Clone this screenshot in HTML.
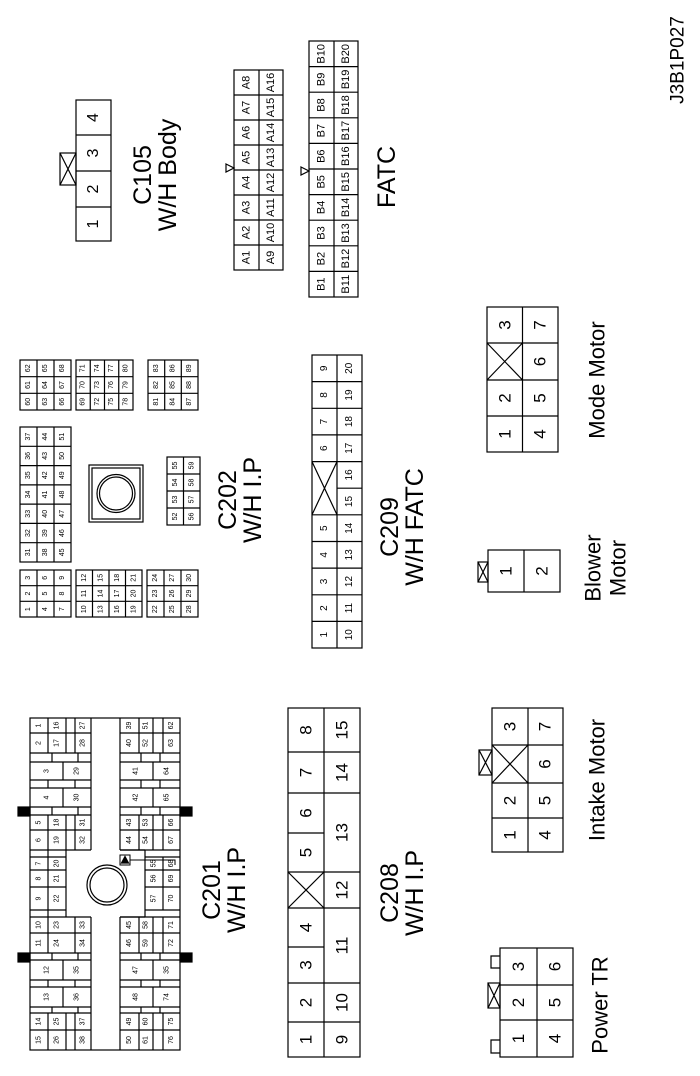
<!DOCTYPE html>
<html><head><meta charset="utf-8"><style>
html,body{margin:0;padding:0;background:#fff;}
svg{display:block;}
text{font-family:"Liberation Sans",Arial,sans-serif;text-anchor:middle;dominant-baseline:central;fill:#000;}
.s7{font-size:7px}.s8{font-size:8px}.s10{font-size:10px}.s11{font-size:11px}.s16{font-size:16px}.s17{font-size:17px}.s22{font-size:22px}.s25{font-size:25px}.s16b{font-size:19px}
rect,path,line,circle,polygon{fill:none;stroke:#000;stroke-width:1.2}
</style></head><body>
<svg width="700" height="1076" viewBox="0 0 700 1076" xmlns="http://www.w3.org/2000/svg">

<!-- J3B1P027 -->
<text class="s16b" transform="translate(678 60) rotate(-90)">J3B1P027</text>

<!-- C105 -->
<rect x="76" y="100" width="35" height="141"/>
<line x1="76" y1="135" x2="111" y2="135"/><line x1="76" y1="171" x2="111" y2="171"/><line x1="76" y1="207" x2="111" y2="207"/>
<rect x="60" y="153" width="16" height="32"/><path d="M60 153 L76 185 M76 153 L60 185"/>
<text class="s16" transform="translate(93.5 117.5) rotate(-90)">4</text>
<text class="s16" transform="translate(93.5 153) rotate(-90)">3</text>
<text class="s16" transform="translate(93.5 189) rotate(-90)">2</text>
<text class="s16" transform="translate(93.5 224) rotate(-90)">1</text>
<text class="s25" transform="translate(143 175) rotate(-90)">C105</text>
<text class="s25" transform="translate(168 175) rotate(-90)">W/H Body</text>

<!-- FATC A -->
<rect x="234" y="70" width="49" height="200"/>
<line x1="259" y1="70" x2="259" y2="270"/>
<path d="M234 95H283M234 120H283M234 145H283M234 170H283M234 195H283M234 220H283M234 245H283"/>
<polygon points="226,164 234,168 226,172" />
<text class="s11" transform="translate(246.5 82.5) rotate(-90)">A8</text>
<text class="s11" transform="translate(246.5 107.5) rotate(-90)">A7</text>
<text class="s11" transform="translate(246.5 132.5) rotate(-90)">A6</text>
<text class="s11" transform="translate(246.5 157.5) rotate(-90)">A5</text>
<text class="s11" transform="translate(246.5 182.5) rotate(-90)">A4</text>
<text class="s11" transform="translate(246.5 207.5) rotate(-90)">A3</text>
<text class="s11" transform="translate(246.5 232.5) rotate(-90)">A2</text>
<text class="s11" transform="translate(246.5 257.5) rotate(-90)">A1</text>
<text class="s11" transform="translate(271 82.5) rotate(-90)">A16</text>
<text class="s11" transform="translate(271 107.5) rotate(-90)">A15</text>
<text class="s11" transform="translate(271 132.5) rotate(-90)">A14</text>
<text class="s11" transform="translate(271 157.5) rotate(-90)">A13</text>
<text class="s11" transform="translate(271 182.5) rotate(-90)">A12</text>
<text class="s11" transform="translate(271 207.5) rotate(-90)">A11</text>
<text class="s11" transform="translate(271 232.5) rotate(-90)">A10</text>
<text class="s11" transform="translate(271 257.5) rotate(-90)">A9</text>

<!-- FATC B -->
<rect x="309" y="41" width="49" height="256"/>
<line x1="334" y1="41" x2="334" y2="297"/>
<path d="M309 66.6H358M309 92.2H358M309 117.8H358M309 143.4H358M309 169H358M309 194.6H358M309 220.2H358M309 245.8H358M309 271.4H358"/>
<polygon points="301,167 309,171 301,175" />
<text class="s11" transform="translate(321.5 53.8) rotate(-90)">B10</text>
<text class="s11" transform="translate(321.5 79.4) rotate(-90)">B9</text>
<text class="s11" transform="translate(321.5 105) rotate(-90)">B8</text>
<text class="s11" transform="translate(321.5 130.6) rotate(-90)">B7</text>
<text class="s11" transform="translate(321.5 156.2) rotate(-90)">B6</text>
<text class="s11" transform="translate(321.5 181.8) rotate(-90)">B5</text>
<text class="s11" transform="translate(321.5 207.4) rotate(-90)">B4</text>
<text class="s11" transform="translate(321.5 233) rotate(-90)">B3</text>
<text class="s11" transform="translate(321.5 258.6) rotate(-90)">B2</text>
<text class="s11" transform="translate(321.5 284.2) rotate(-90)">B1</text>
<text class="s11" transform="translate(346 53.8) rotate(-90)">B20</text>
<text class="s11" transform="translate(346 79.4) rotate(-90)">B19</text>
<text class="s11" transform="translate(346 105) rotate(-90)">B18</text>
<text class="s11" transform="translate(346 130.6) rotate(-90)">B17</text>
<text class="s11" transform="translate(346 156.2) rotate(-90)">B16</text>
<text class="s11" transform="translate(346 181.8) rotate(-90)">B15</text>
<text class="s11" transform="translate(346 207.4) rotate(-90)">B14</text>
<text class="s11" transform="translate(346 233) rotate(-90)">B13</text>
<text class="s11" transform="translate(346 258.6) rotate(-90)">B12</text>
<text class="s11" transform="translate(346 284.2) rotate(-90)">B11</text>
<text class="s25" transform="translate(387 177) rotate(-90)">FATC</text>

<!-- C202 -->
<rect x="20" y="360" width="51" height="50"/>
<path d="M37 360V410M54 360V410M20 376.7H71M20 393.3H71"/>
<text class="s7" transform="translate(28.5 368.3) rotate(-90)">62</text>
<text class="s7" transform="translate(28.5 385) rotate(-90)">61</text>
<text class="s7" transform="translate(28.5 401.7) rotate(-90)">60</text>
<text class="s7" transform="translate(45.5 368.3) rotate(-90)">65</text>
<text class="s7" transform="translate(45.5 385) rotate(-90)">64</text>
<text class="s7" transform="translate(45.5 401.7) rotate(-90)">63</text>
<text class="s7" transform="translate(62.5 368.3) rotate(-90)">68</text>
<text class="s7" transform="translate(62.5 385) rotate(-90)">67</text>
<text class="s7" transform="translate(62.5 401.7) rotate(-90)">66</text>
<rect x="76" y="360" width="57" height="50"/>
<path d="M90.25 360V410M104.5 360V410M118.75 360V410M76 376.7H133M76 393.3H133"/>
<text class="s7" transform="translate(83.1 368.3) rotate(-90)">71</text>
<text class="s7" transform="translate(83.1 385) rotate(-90)">70</text>
<text class="s7" transform="translate(83.1 401.7) rotate(-90)">69</text>
<text class="s7" transform="translate(97.4 368.3) rotate(-90)">74</text>
<text class="s7" transform="translate(97.4 385) rotate(-90)">73</text>
<text class="s7" transform="translate(97.4 401.7) rotate(-90)">72</text>
<text class="s7" transform="translate(111.6 368.3) rotate(-90)">77</text>
<text class="s7" transform="translate(111.6 385) rotate(-90)">76</text>
<text class="s7" transform="translate(111.6 401.7) rotate(-90)">75</text>
<text class="s7" transform="translate(125.9 368.3) rotate(-90)">80</text>
<text class="s7" transform="translate(125.9 385) rotate(-90)">79</text>
<text class="s7" transform="translate(125.9 401.7) rotate(-90)">78</text>
<rect x="148" y="360" width="50" height="50"/>
<path d="M164.7 360V410M181.3 360V410M148 376.7H198M148 393.3H198"/>
<text class="s7" transform="translate(156.3 368.3) rotate(-90)">83</text>
<text class="s7" transform="translate(156.3 385) rotate(-90)">82</text>
<text class="s7" transform="translate(156.3 401.7) rotate(-90)">81</text>
<text class="s7" transform="translate(173 368.3) rotate(-90)">86</text>
<text class="s7" transform="translate(173 385) rotate(-90)">85</text>
<text class="s7" transform="translate(173 401.7) rotate(-90)">84</text>
<text class="s7" transform="translate(189.7 368.3) rotate(-90)">89</text>
<text class="s7" transform="translate(189.7 385) rotate(-90)">88</text>
<text class="s7" transform="translate(189.7 401.7) rotate(-90)">87</text>
<rect x="20" y="427" width="51" height="135"/>
<path d="M37 427V562M54 427V562M20 446.3H71M20 465.6H71M20 484.9H71M20 504.1H71M20 523.4H71M20 542.7H71"/>
<text class="s7" transform="translate(28.5 436.6) rotate(-90)">37</text>
<text class="s7" transform="translate(28.5 455.9) rotate(-90)">36</text>
<text class="s7" transform="translate(28.5 475.2) rotate(-90)">35</text>
<text class="s7" transform="translate(28.5 494.5) rotate(-90)">34</text>
<text class="s7" transform="translate(28.5 513.8) rotate(-90)">33</text>
<text class="s7" transform="translate(28.5 533.1) rotate(-90)">32</text>
<text class="s7" transform="translate(28.5 552.4) rotate(-90)">31</text>
<text class="s7" transform="translate(45.5 436.6) rotate(-90)">44</text>
<text class="s7" transform="translate(45.5 455.9) rotate(-90)">43</text>
<text class="s7" transform="translate(45.5 475.2) rotate(-90)">42</text>
<text class="s7" transform="translate(45.5 494.5) rotate(-90)">41</text>
<text class="s7" transform="translate(45.5 513.8) rotate(-90)">40</text>
<text class="s7" transform="translate(45.5 533.1) rotate(-90)">39</text>
<text class="s7" transform="translate(45.5 552.4) rotate(-90)">38</text>
<text class="s7" transform="translate(62.5 436.6) rotate(-90)">51</text>
<text class="s7" transform="translate(62.5 455.9) rotate(-90)">50</text>
<text class="s7" transform="translate(62.5 475.2) rotate(-90)">49</text>
<text class="s7" transform="translate(62.5 494.5) rotate(-90)">48</text>
<text class="s7" transform="translate(62.5 513.8) rotate(-90)">47</text>
<text class="s7" transform="translate(62.5 533.1) rotate(-90)">46</text>
<text class="s7" transform="translate(62.5 552.4) rotate(-90)">45</text>
<rect x="89" y="465" width="54" height="57"/>
<rect x="92" y="468" width="48" height="51"/>
<circle cx="116" cy="493.5" r="19"/><circle cx="116" cy="493.5" r="16.5"/>
<rect x="167" y="457" width="33" height="68"/>
<path d="M183.5 457V525M167 474H200M167 491H200M167 508H200"/>
<text class="s7" transform="translate(175.3 465.5) rotate(-90)">55</text>
<text class="s7" transform="translate(175.3 482.5) rotate(-90)">54</text>
<text class="s7" transform="translate(175.3 499.5) rotate(-90)">53</text>
<text class="s7" transform="translate(175.3 516.5) rotate(-90)">52</text>
<text class="s7" transform="translate(191.8 465.5) rotate(-90)">59</text>
<text class="s7" transform="translate(191.8 482.5) rotate(-90)">58</text>
<text class="s7" transform="translate(191.8 499.5) rotate(-90)">57</text>
<text class="s7" transform="translate(191.8 516.5) rotate(-90)">56</text>
<rect x="20" y="570" width="51" height="47"/>
<path d="M37 570V617M54 570V617M20 585.7H71M20 601.3H71"/>
<text class="s7" transform="translate(28.5 577.8) rotate(-90)">3</text>
<text class="s7" transform="translate(28.5 593.5) rotate(-90)">2</text>
<text class="s7" transform="translate(28.5 609.2) rotate(-90)">1</text>
<text class="s7" transform="translate(45.5 577.8) rotate(-90)">6</text>
<text class="s7" transform="translate(45.5 593.5) rotate(-90)">5</text>
<text class="s7" transform="translate(45.5 609.2) rotate(-90)">4</text>
<text class="s7" transform="translate(62.5 577.8) rotate(-90)">9</text>
<text class="s7" transform="translate(62.5 593.5) rotate(-90)">8</text>
<text class="s7" transform="translate(62.5 609.2) rotate(-90)">7</text>
<rect x="76" y="570" width="66" height="47"/>
<path d="M92.5 570V617M109 570V617M125.5 570V617M76 585.7H142M76 601.3H142"/>
<text class="s7" transform="translate(84.3 577.8) rotate(-90)">12</text>
<text class="s7" transform="translate(84.3 593.5) rotate(-90)">11</text>
<text class="s7" transform="translate(84.3 609.2) rotate(-90)">10</text>
<text class="s7" transform="translate(100.8 577.8) rotate(-90)">15</text>
<text class="s7" transform="translate(100.8 593.5) rotate(-90)">14</text>
<text class="s7" transform="translate(100.8 609.2) rotate(-90)">13</text>
<text class="s7" transform="translate(117.3 577.8) rotate(-90)">18</text>
<text class="s7" transform="translate(117.3 593.5) rotate(-90)">17</text>
<text class="s7" transform="translate(117.3 609.2) rotate(-90)">16</text>
<text class="s7" transform="translate(133.8 577.8) rotate(-90)">21</text>
<text class="s7" transform="translate(133.8 593.5) rotate(-90)">20</text>
<text class="s7" transform="translate(133.8 609.2) rotate(-90)">19</text>
<rect x="147" y="570" width="51" height="47"/>
<path d="M164 570V617M181 570V617M147 585.7H198M147 601.3H198"/>
<text class="s7" transform="translate(155.5 577.8) rotate(-90)">24</text>
<text class="s7" transform="translate(155.5 593.5) rotate(-90)">23</text>
<text class="s7" transform="translate(155.5 609.2) rotate(-90)">22</text>
<text class="s7" transform="translate(172.5 577.8) rotate(-90)">27</text>
<text class="s7" transform="translate(172.5 593.5) rotate(-90)">26</text>
<text class="s7" transform="translate(172.5 609.2) rotate(-90)">25</text>
<text class="s7" transform="translate(189.5 577.8) rotate(-90)">30</text>
<text class="s7" transform="translate(189.5 593.5) rotate(-90)">29</text>
<text class="s7" transform="translate(189.5 609.2) rotate(-90)">28</text>
<text class="s25" transform="translate(228 500) rotate(-90)">C202</text>
<text class="s25" transform="translate(253 500) rotate(-90)">W/H I.P</text>

<!-- C209 -->
<rect x="312" y="355" width="50" height="293"/>
<line x1="337" y1="355" x2="337" y2="648"/>
<path d="M312 381.6H362M312 408.3H362M312 434.9H362M312 461.6H362M337 488.2H362M312 514.8H362M312 541.5H362M312 568.1H362M312 594.8H362M312 621.4H362"/>
<path d="M312 461.6L337 514.8M337 461.6L312 514.8"/>
<text class="s10" transform="translate(324.5 368.3) rotate(-90)">9</text>
<text class="s10" transform="translate(324.5 395) rotate(-90)">8</text>
<text class="s10" transform="translate(324.5 421.6) rotate(-90)">7</text>
<text class="s10" transform="translate(324.5 448.2) rotate(-90)">6</text>
<text class="s10" transform="translate(324.5 528.2) rotate(-90)">5</text>
<text class="s10" transform="translate(324.5 554.8) rotate(-90)">4</text>
<text class="s10" transform="translate(324.5 581.5) rotate(-90)">3</text>
<text class="s10" transform="translate(324.5 608.1) rotate(-90)">2</text>
<text class="s10" transform="translate(324.5 634.7) rotate(-90)">1</text>
<text class="s10" transform="translate(349.5 368.3) rotate(-90)">20</text>
<text class="s10" transform="translate(349.5 395) rotate(-90)">19</text>
<text class="s10" transform="translate(349.5 421.6) rotate(-90)">18</text>
<text class="s10" transform="translate(349.5 448.2) rotate(-90)">17</text>
<text class="s10" transform="translate(349.5 474.9) rotate(-90)">16</text>
<text class="s10" transform="translate(349.5 501.5) rotate(-90)">15</text>
<text class="s10" transform="translate(349.5 528.2) rotate(-90)">14</text>
<text class="s10" transform="translate(349.5 554.8) rotate(-90)">13</text>
<text class="s10" transform="translate(349.5 581.5) rotate(-90)">12</text>
<text class="s10" transform="translate(349.5 608.1) rotate(-90)">11</text>
<text class="s10" transform="translate(349.5 634.7) rotate(-90)">10</text>
<text class="s25" transform="translate(390 527) rotate(-90)">C209</text>
<text class="s25" transform="translate(415 527) rotate(-90)">W/H FATC</text>

<!-- Mode Motor -->
<rect x="487" y="307" width="71" height="145"/>
<path d="M522.5 307V452M487 343H558M487 380H558M487 416H558M487 343L522.5 380M522.5 343L487 380"/>
<text class="s17" transform="translate(505 325) rotate(-90)">3</text>
<text class="s17" transform="translate(505 398) rotate(-90)">2</text>
<text class="s17" transform="translate(505 434) rotate(-90)">1</text>
<text class="s17" transform="translate(540 325) rotate(-90)">7</text>
<text class="s17" transform="translate(540 361.5) rotate(-90)">6</text>
<text class="s17" transform="translate(540 398) rotate(-90)">5</text>
<text class="s17" transform="translate(540 434) rotate(-90)">4</text>
<text class="s22" transform="translate(597 380) rotate(-90)">Mode Motor</text>

<!-- Blower Motor -->
<rect x="488" y="550" width="72" height="42"/>
<line x1="524" y1="550" x2="524" y2="592"/>
<rect x="478" y="562" width="10" height="20"/><path d="M478 562L488 582M488 562L478 582"/>
<text class="s17" transform="translate(506 571) rotate(-90)">1</text>
<text class="s17" transform="translate(542 571) rotate(-90)">2</text>
<text class="s22" transform="translate(593 568) rotate(-90)">Blower</text>
<text class="s22" transform="translate(618 568) rotate(-90)">Motor</text>

<!-- C201 -->
<rect x="30" y="718" width="150" height="332"/>
<rect x="18" y="807" width="12" height="9" style="fill:#000"/>
<rect x="18" y="953" width="12" height="9" style="fill:#000"/>
<rect x="180" y="807" width="12" height="9" style="fill:#000"/>
<rect x="180" y="953" width="12" height="9" style="fill:#000"/>
<path d="M91 718V850M66 850V917M91 917V1050M66 850H91M66 917H91"/>
<path d="M30 733H91M30 753H91M30 762H91M30 780H91M30 788H91M30 807H91M30 815H91M30 830H91M30 850H66M30 857H66M30 870H66M30 887H66M30 910H66M30 917H66M30 933H91M30 953H91M30 960H91M30 980H91M30 987H91M30 1007H91M30 1013H91M30 1030H91"/>
<path d="M48 718V753M66 718V753M75 718V753M52 753V762M78 753V762M63 762V780M48 780V788M75 780V788M63 788V807M52 807V815M78 807V815M48 815V857M66 815V850M75 815V850M48 857V910M48 910V917M48 917V953M75 917V953M52 953V960M78 953V960M63 960V980M48 980V987M75 980V987M63 987V1007M52 1007V1013M78 1007V1013M48 1013V1050M66 1013V1050M75 1013V1050"/>
<path d="M120 718V850M145 850V917M120 917V1050M120 850H145M120 917H145"/>
<path d="M120 733H180M120 753H180M120 762H180M120 780H180M120 788H180M120 807H180M120 815H180M120 830H180M120 850H180M145 857H180M145 870H180M145 887H180M145 910H180M120 917H180M120 933H180M120 953H180M120 960H180M120 980H180M120 987H180M120 1007H180M120 1013H180M120 1030H180"/>
<path d="M139 718V753M153 718V753M163 718V753M141 753V762M160 753V762M153 762V780M141 780V788M160 780V788M153 788V807M141 807V815M160 807V815M139 815V850M153 815V850M163 815V850M163 857V910M139 917V953M153 917V953M163 917V953M141 953V960M160 953V960M153 960V980M141 980V987M160 980V987M153 987V1007M141 1007V1013M160 1007V1013M139 1013V1050M153 1013V1050M163 1013V1050"/>
<circle cx="107" cy="885" r="20"/><circle cx="107" cy="885" r="17"/>
<rect x="120" y="855" width="10" height="10" style="stroke-width:1"/>
<polygon points="125,856.5 128.5,863 121.5,863" style="fill:#000"/>
<path d="M130 860H175V865" style="stroke-width:1"/>
<text class="s7" transform="translate(39 725.5) rotate(-90)">1</text>
<text class="s7" transform="translate(57 725.5) rotate(-90)">16</text>
<text class="s7" transform="translate(83 725.5) rotate(-90)">27</text>
<text class="s7" transform="translate(39 743) rotate(-90)">2</text>
<text class="s7" transform="translate(57 743) rotate(-90)">17</text>
<text class="s7" transform="translate(83 743) rotate(-90)">28</text>
<text class="s7" transform="translate(47 771) rotate(-90)">3</text>
<text class="s7" transform="translate(77 771) rotate(-90)">29</text>
<text class="s7" transform="translate(47 797.5) rotate(-90)">4</text>
<text class="s7" transform="translate(77 797.5) rotate(-90)">30</text>
<text class="s7" transform="translate(39 822.5) rotate(-90)">5</text>
<text class="s7" transform="translate(57 822.5) rotate(-90)">18</text>
<text class="s7" transform="translate(83 822.5) rotate(-90)">31</text>
<text class="s7" transform="translate(39 840) rotate(-90)">6</text>
<text class="s7" transform="translate(57 840) rotate(-90)">19</text>
<text class="s7" transform="translate(83 840) rotate(-90)">32</text>
<text class="s7" transform="translate(39 863.5) rotate(-90)">7</text>
<text class="s7" transform="translate(57 863.5) rotate(-90)">20</text>
<text class="s7" transform="translate(39 878.5) rotate(-90)">8</text>
<text class="s7" transform="translate(57 878.5) rotate(-90)">21</text>
<text class="s7" transform="translate(39 898.5) rotate(-90)">9</text>
<text class="s7" transform="translate(57 898.5) rotate(-90)">22</text>
<text class="s7" transform="translate(39 925) rotate(-90)">10</text>
<text class="s7" transform="translate(57 925) rotate(-90)">23</text>
<text class="s7" transform="translate(83 925) rotate(-90)">33</text>
<text class="s7" transform="translate(39 943) rotate(-90)">11</text>
<text class="s7" transform="translate(57 943) rotate(-90)">24</text>
<text class="s7" transform="translate(83 943) rotate(-90)">34</text>
<text class="s7" transform="translate(47 970) rotate(-90)">12</text>
<text class="s7" transform="translate(77 970) rotate(-90)">35</text>
<text class="s7" transform="translate(47 997) rotate(-90)">13</text>
<text class="s7" transform="translate(77 997) rotate(-90)">36</text>
<text class="s7" transform="translate(39 1021.5) rotate(-90)">14</text>
<text class="s7" transform="translate(57 1021.5) rotate(-90)">25</text>
<text class="s7" transform="translate(83 1021.5) rotate(-90)">37</text>
<text class="s7" transform="translate(39 1040) rotate(-90)">15</text>
<text class="s7" transform="translate(57 1040) rotate(-90)">26</text>
<text class="s7" transform="translate(83 1040) rotate(-90)">38</text>
<text class="s7" transform="translate(129.5 725.5) rotate(-90)">39</text>
<text class="s7" transform="translate(146 725.5) rotate(-90)">51</text>
<text class="s7" transform="translate(171.5 725.5) rotate(-90)">62</text>
<text class="s7" transform="translate(129.5 743) rotate(-90)">40</text>
<text class="s7" transform="translate(146 743) rotate(-90)">52</text>
<text class="s7" transform="translate(171.5 743) rotate(-90)">63</text>
<text class="s7" transform="translate(136 771) rotate(-90)">41</text>
<text class="s7" transform="translate(167 771) rotate(-90)">64</text>
<text class="s7" transform="translate(136 797.5) rotate(-90)">42</text>
<text class="s7" transform="translate(167 797.5) rotate(-90)">65</text>
<text class="s7" transform="translate(129.5 822.5) rotate(-90)">43</text>
<text class="s7" transform="translate(146 822.5) rotate(-90)">53</text>
<text class="s7" transform="translate(171.5 822.5) rotate(-90)">66</text>
<text class="s7" transform="translate(129.5 840) rotate(-90)">44</text>
<text class="s7" transform="translate(146 840) rotate(-90)">54</text>
<text class="s7" transform="translate(171.5 840) rotate(-90)">67</text>
<text class="s7" transform="translate(154 863.5) rotate(-90)">55</text>
<text class="s7" transform="translate(171.5 863.5) rotate(-90)">68</text>
<text class="s7" transform="translate(154 878.5) rotate(-90)">56</text>
<text class="s7" transform="translate(171.5 878.5) rotate(-90)">69</text>
<text class="s7" transform="translate(154 898.5) rotate(-90)">57</text>
<text class="s7" transform="translate(171.5 898.5) rotate(-90)">70</text>
<text class="s7" transform="translate(129.5 925) rotate(-90)">45</text>
<text class="s7" transform="translate(146 925) rotate(-90)">58</text>
<text class="s7" transform="translate(171.5 925) rotate(-90)">71</text>
<text class="s7" transform="translate(129.5 943) rotate(-90)">46</text>
<text class="s7" transform="translate(146 943) rotate(-90)">59</text>
<text class="s7" transform="translate(171.5 943) rotate(-90)">72</text>
<text class="s7" transform="translate(136 970) rotate(-90)">47</text>
<text class="s7" transform="translate(167 970) rotate(-90)">35</text>
<text class="s7" transform="translate(136 997) rotate(-90)">48</text>
<text class="s7" transform="translate(167 997) rotate(-90)">74</text>
<text class="s7" transform="translate(129.5 1021.5) rotate(-90)">49</text>
<text class="s7" transform="translate(146 1021.5) rotate(-90)">60</text>
<text class="s7" transform="translate(171.5 1021.5) rotate(-90)">75</text>
<text class="s7" transform="translate(129.5 1040) rotate(-90)">50</text>
<text class="s7" transform="translate(146 1040) rotate(-90)">61</text>
<text class="s7" transform="translate(171.5 1040) rotate(-90)">76</text>
<text class="s25" transform="translate(212 890) rotate(-90)">C201</text>
<text class="s25" transform="translate(237 890) rotate(-90)">W/H I.P</text>

<!-- C208 -->
<rect x="288" y="708" width="72" height="349"/>
<line x1="324" y1="708" x2="324" y2="1057"/>
<path d="M288 752H360M288 793H360M288 833H324M288 872H360M288 908H360M288 947H324M288 983H360M288 1022H360"/>
<path d="M288 872L324 908M324 872L288 908"/>
<text class="s17" transform="translate(306 730) rotate(-90)">8</text>
<text class="s17" transform="translate(306 772.5) rotate(-90)">7</text>
<text class="s17" transform="translate(306 813) rotate(-90)">6</text>
<text class="s17" transform="translate(306 852.5) rotate(-90)">5</text>
<text class="s17" transform="translate(306 927.5) rotate(-90)">4</text>
<text class="s17" transform="translate(306 965) rotate(-90)">3</text>
<text class="s17" transform="translate(306 1002.5) rotate(-90)">2</text>
<text class="s17" transform="translate(306 1039.5) rotate(-90)">1</text>
<text class="s17" transform="translate(342 730) rotate(-90)">15</text>
<text class="s17" transform="translate(342 772.5) rotate(-90)">14</text>
<text class="s17" transform="translate(342 832.5) rotate(-90)">13</text>
<text class="s17" transform="translate(342 890) rotate(-90)">12</text>
<text class="s17" transform="translate(342 945.5) rotate(-90)">11</text>
<text class="s17" transform="translate(342 1002.5) rotate(-90)">10</text>
<text class="s17" transform="translate(342 1039.5) rotate(-90)">9</text>
<text class="s25" transform="translate(390 893) rotate(-90)">C208</text>
<text class="s25" transform="translate(415 893) rotate(-90)">W/H I.P</text>

<!-- Intake Motor -->
<rect x="492" y="708" width="71" height="144"/>
<path d="M528 708V852M492 745H563M492 783H563M492 818H563M492 745L528 783M528 745L492 783"/>
<rect x="479" y="750" width="13" height="25"/><path d="M479 750L492 775M492 750L479 775"/>
<text class="s17" transform="translate(510 726.5) rotate(-90)">3</text>
<text class="s17" transform="translate(510 800.5) rotate(-90)">2</text>
<text class="s17" transform="translate(510 835) rotate(-90)">1</text>
<text class="s17" transform="translate(545 726.5) rotate(-90)">7</text>
<text class="s17" transform="translate(545 764) rotate(-90)">6</text>
<text class="s17" transform="translate(545 800.5) rotate(-90)">5</text>
<text class="s17" transform="translate(545 835) rotate(-90)">4</text>
<text class="s22" transform="translate(597 780) rotate(-90)">Intake Motor</text>

<!-- Power TR -->
<rect x="500" y="948" width="73" height="109"/>
<path d="M537 948V1057M500 985H573M500 1020H573"/>
<path d="M500 956H491V968H500M500 1040H491V1053H500"/>
<rect x="488" y="983" width="12" height="25"/><path d="M488 983L500 1008M500 983L488 1008"/>
<text class="s17" transform="translate(518.5 966.5) rotate(-90)">3</text>
<text class="s17" transform="translate(518.5 1002.5) rotate(-90)">2</text>
<text class="s17" transform="translate(518.5 1038.5) rotate(-90)">1</text>
<text class="s17" transform="translate(555 966.5) rotate(-90)">6</text>
<text class="s17" transform="translate(555 1002.5) rotate(-90)">5</text>
<text class="s17" transform="translate(555 1038.5) rotate(-90)">4</text>
<text class="s22" transform="translate(600 1005) rotate(-90)">Power TR</text>
</svg>
</body></html>
